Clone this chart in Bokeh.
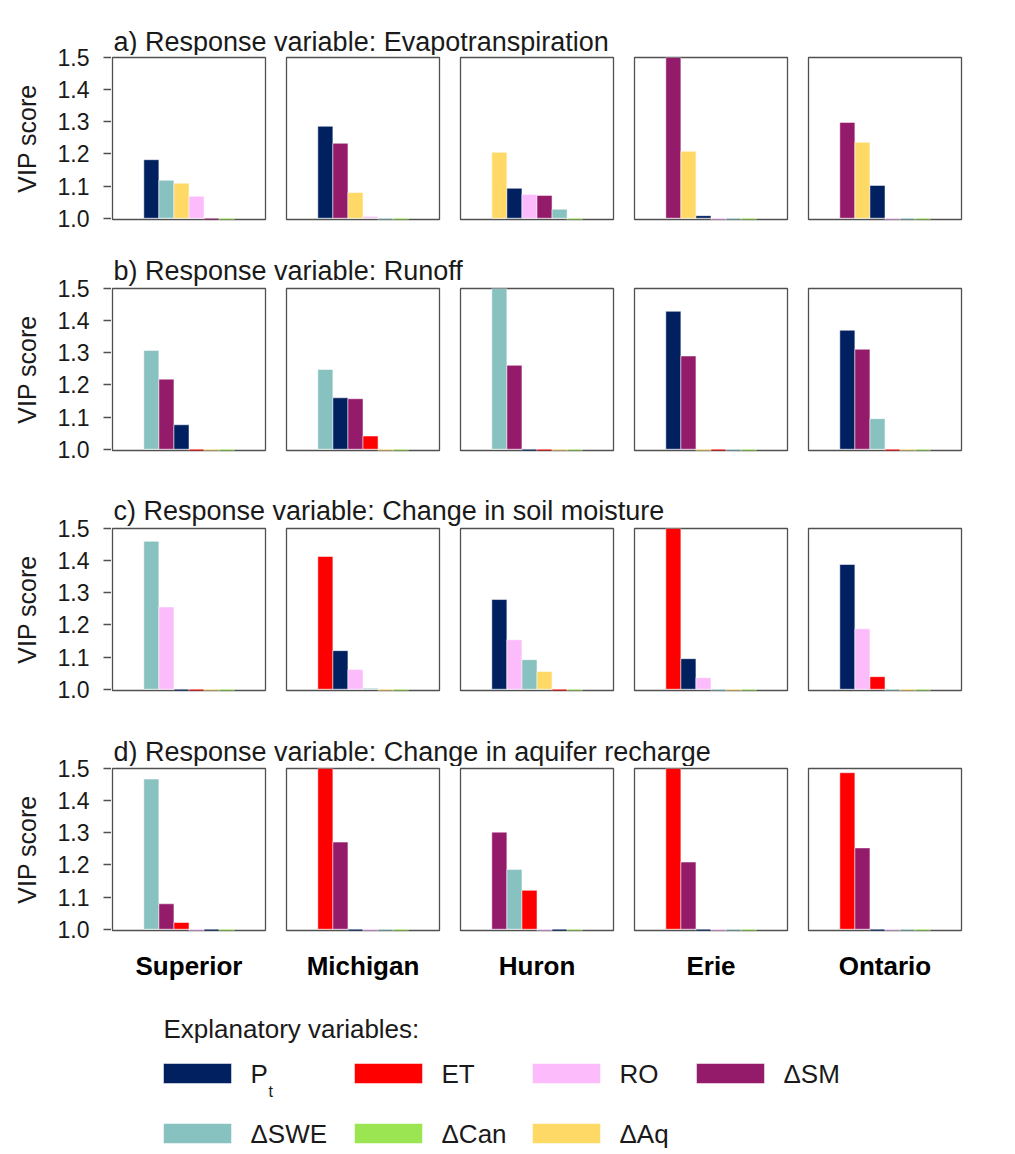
from bokeh.plotting import figure
from bokeh.layouts import column, row
from bokeh.models import Range1d, FixedTicker, ColumnDataSource, PrintfTickFormatter
from bokeh.embed import file_html
from bokeh.resources import INLINE
from bokeh.core.properties import value

FONT = "Liberation Sans"

lakes = ["Superior", "Michigan", "Huron", "Erie", "Ontario"]
row_titles = [
    "a) Response variable: Evapotranspiration",
    "b) Response variable: Runoff",
    "c) Response variable: Change in soil moisture",
    "d) Response variable: Change in aquifer recharge",
]
variables = ["Pt", "ET", "RO", "ΔSM", "ΔSWE", "ΔCan", "ΔAq"]
var_colors = ["#002060", "#FF0000", "#FCBCFC", "#941A6A", "#88C2C0", "#9BE452", "#FFD966"]
y_ticks = [1.0, 1.1, 1.2, 1.3, 1.4, 1.5]

# a) Evapotranspiration response: bars in descending order per lake
et_order = [
    ["Pt", "ΔSWE", "ΔAq", "RO", "ΔSM", "ΔCan"],
    ["Pt", "ΔSM", "ΔAq", "RO", "ΔSWE", "ΔCan"],
    ["ΔAq", "Pt", "RO", "ΔSM", "ΔSWE", "ΔCan"],
    ["ΔSM", "ΔAq", "Pt", "RO", "ΔSWE", "ΔCan"],
    ["ΔSM", "ΔAq", "Pt", "RO", "ΔSWE", "ΔCan"],
]
et_vip = [
    [1.182, 1.118, 1.109, 1.068, 0.99, 0.99],
    [1.286, 1.233, 1.080, 1.005, 0.99, 0.99],
    [1.205, 1.093, 1.074, 1.071, 1.028, 0.99],
    [1.500, 1.208, 1.008, 0.99, 0.99, 0.99],
    [1.298, 1.236, 1.102, 0.99, 0.99, 0.99],
]
# b) Runoff response
ro_order = [
    ["ΔSWE", "ΔSM", "Pt", "ET", "ΔAq", "ΔCan"],
    ["ΔSWE", "Pt", "ΔSM", "ET", "ΔAq", "ΔCan"],
    ["ΔSWE", "ΔSM", "Pt", "ET", "ΔAq", "ΔCan"],
    ["Pt", "ΔSM", "ΔAq", "ET", "ΔSWE", "ΔCan"],
    ["Pt", "ΔSM", "ΔSWE", "ET", "ΔAq", "ΔCan"],
]
ro_vip = [
    [1.307, 1.218, 1.076, 0.99, 0.99, 0.99],
    [1.248, 1.160, 1.157, 1.041, 0.99, 0.99],
    [1.500, 1.261, 0.99, 0.99, 0.99, 0.99],
    [1.429, 1.290, 0.99, 0.99, 0.99, 0.99],
    [1.370, 1.311, 1.095, 0.99, 0.99, 0.99],
]
# c) Change in soil moisture response
sm_order = [
    ["ΔSWE", "RO", "Pt", "ET", "ΔAq", "ΔCan"],
    ["ET", "Pt", "RO", "ΔSWE", "ΔAq", "ΔCan"],
    ["Pt", "RO", "ΔSWE", "ΔAq", "ET", "ΔCan"],
    ["ET", "Pt", "RO", "ΔSWE", "ΔAq", "ΔCan"],
    ["Pt", "RO", "ET", "ΔSWE", "ΔAq", "ΔCan"],
]
sm_vip = [
    [1.460, 1.256, 0.99, 0.99, 0.99, 0.99],
    [1.413, 1.120, 1.061, 1.003, 0.99, 0.99],
    [1.279, 1.154, 1.092, 1.055, 0.99, 0.99],
    [1.500, 1.095, 1.036, 0.99, 0.99, 0.99],
    [1.388, 1.188, 1.039, 0.99, 0.99, 0.99],
]
# d) Change in aquifer recharge response
aq_order = [
    ["ΔSWE", "ΔSM", "ET", "RO", "Pt", "ΔCan"],
    ["ET", "ΔSM", "Pt", "RO", "ΔSWE", "ΔCan"],
    ["ΔSM", "ΔSWE", "ET", "RO", "Pt", "ΔCan"],
    ["ET", "ΔSM", "Pt", "RO", "ΔSWE", "ΔCan"],
    ["ET", "ΔSM", "Pt", "RO", "ΔSWE", "ΔCan"],
]
aq_vip = [
    [1.467, 1.079, 1.021, 0.99, 0.99, 0.99],
    [1.500, 1.271, 0.99, 0.99, 0.99, 0.99],
    [1.302, 1.186, 1.121, 0.99, 0.99, 0.99],
    [1.500, 1.209, 0.99, 0.99, 0.99, 0.99],
    [1.487, 1.253, 0.99, 0.99, 0.99, 0.99],
]

legend_heading = "Explanatory variables:"

# ---------------- layout constants ----------------
AXIS_W = 111          # width of the left column holding the y axes
RIGHT_W = 861         # width of the right column (titles, panels, legend)
FRAME_W = 153
FRAME_H = 162
TEXT_COLOR = "#1a1a1a"
FRAME_COLOR = "#505050"
Y_RANGE = (0.996, 1.5)


def blank_fig(w, h, flip=False):
    f = figure(width=w, height=h, x_range=Range1d(0, w),
               y_range=Range1d(h, 0) if flip else Range1d(0, h),
               output_backend="svg", toolbar_location=None, x_axis_location=None,
               y_axis_location=None, min_border=0, outline_line_color=None)
    f.grid.visible = False
    return f


def title_fig(text, h, base):
    t = blank_fig(RIGHT_W, h)
    t.text(x=[2], y=[base], text=[text], text_font=value(FONT), text_font_size="27px",
           text_baseline="alphabetic", text_align="left", text_color=TEXT_COLOR)
    return t


def axis_fig(h, top, bottom):
    a = figure(width=AXIS_W, height=h, x_range=Range1d(0, 1), y_range=Range1d(*Y_RANGE),
               output_backend="svg", toolbar_location=None, x_axis_location=None,
               y_axis_location="left", min_border_left=AXIS_W - 1, min_border_right=0,
               min_border_top=top, min_border_bottom=bottom, outline_line_color=None)
    a.grid.visible = False
    ax = a.yaxis[0]
    ax.ticker = FixedTicker(ticks=y_ticks)
    ax.formatter = PrintfTickFormatter(format="%.1f")
    ax.major_tick_out = 7
    ax.major_tick_in = 2
    ax.minor_tick_line_color = None
    ax.axis_line_color = None
    ax.major_tick_line_color = FRAME_COLOR
    ax.major_tick_line_width = 1.3
    ax.major_label_text_font = FONT
    ax.major_label_text_font_size = "23px"
    ax.major_label_text_color = TEXT_COLOR
    ax.major_label_standoff = 14
    ax.axis_label = "VIP score"
    ax.axis_label_text_font = FONT
    ax.axis_label_text_font_size = "25px"
    ax.axis_label_text_font_style = "normal"
    ax.axis_label_text_color = TEXT_COLOR
    ax.axis_label_standoff = 14
    return a


def panel(order, vals, col, last_row, lake):
    left = 1 if col == 0 else 10
    bottom = 62 if last_row else 2
    p = figure(width=left + FRAME_W + 11, height=2 + FRAME_H + bottom,
               x_range=Range1d(-2.08, 8.08), y_range=Range1d(*Y_RANGE),
               output_backend="svg", toolbar_location=None,
               x_axis_location="below" if last_row else None,
               y_axis_location=None,
               min_border_left=left, min_border_right=11, min_border_top=2,
               min_border_bottom=bottom)
    p.grid.visible = False
    p.outline_line_color = FRAME_COLOR
    p.outline_line_width = 1.3
    src = ColumnDataSource(dict(
        x=[i + 0.5 for i in range(len(vals))],
        top=vals,
        color=[var_colors[variables.index(v)] for v in order],
    ))
    p.vbar(x="x", top="top", bottom=1.0, width=1.0, fill_color="color",
           line_color="white", line_alpha=0.5, line_width=1, source=src)
    if last_row:
        ax = p.xaxis[0]
        ax.ticker = FixedTicker(ticks=[3.0])
        ax.major_label_overrides = {3.0: lake}
        ax.axis_line_color = None
        ax.major_tick_line_color = None
        ax.minor_tick_line_color = None
        ax.major_label_text_font = FONT
        ax.major_label_text_font_size = "26px"
        ax.major_label_text_font_style = "bold"
        ax.major_label_text_color = "#000000"
        ax.major_label_standoff = 14
    return p


def panel_row(orders, vips, last_row):
    figs = [panel(orders[i], vips[i], i, last_row, lakes[i]) for i in range(len(lakes))]
    return row(figs, spacing=0)


def legend_fig():
    h = 158
    lg = blank_fig(RIGHT_W, h, flip=True)
    lg.text(x=[52], y=[36], text=[legend_heading], text_font=value(FONT),
            text_font_size="26px", text_baseline="alphabetic", text_color=TEXT_COLOR)
    col_x = [52, 243, 421, 585]
    row_y = [81, 141]
    sx, sy, sc, lx, ly, lt = [], [], [], [], [], []
    for k, v in enumerate(variables):
        c, r = k % 4, k // 4
        sx.append(col_x[c] + 34)
        sy.append(row_y[r])
        sc.append(var_colors[k])
        lx.append(col_x[c] + 87)
        ly.append(row_y[r])
        lt.append("P" if v == "Pt" else v)
    lg.rect(x=sx, y=sy, width=68, height=20, fill_color=sc, line_color="white",
            line_alpha=0.5, line_width=1)
    lg.text(x=lx, y=ly, text=lt, text_font=value(FONT), text_font_size="26px",
            text_baseline="middle", text_align="left", text_color=TEXT_COLOR)
    # subscript "t" of P_t
    k = variables.index("Pt")
    lg.text(x=[col_x[k % 4] + 87 + 18], y=[row_y[k // 4] + 18], text=["t"],
            text_font=value(FONT), text_font_size="16px", text_baseline="alphabetic",
            text_align="left", text_color=TEXT_COLOR)
    return lg


left_col = column(
    axis_fig(235, 57, 16),
    axis_fig(231, 53, 16),
    axis_fig(240, 62, 16),
    axis_fig(286, 62, 62),
    spacing=0,
)

right_col = column(
    title_fig(row_titles[0], 55, 14),
    panel_row(et_order, et_vip, False),
    title_fig(row_titles[1], 65, 16),
    panel_row(ro_order, ro_vip, False),
    title_fig(row_titles[2], 74, 16),
    panel_row(sm_order, sm_vip, False),
    title_fig(row_titles[3], 74, 15),
    panel_row(aq_order, aq_vip, True),
    legend_fig(),
    spacing=0,
)

layout = row(left_col, right_col, spacing=0)

open("out.html", "w").write(file_html(layout, INLINE))
